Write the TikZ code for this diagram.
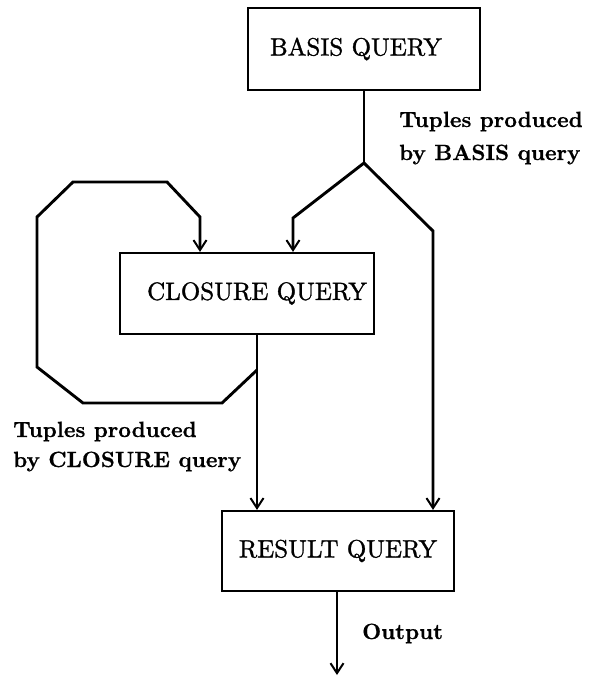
\documentclass[tikz,border=0pt]{standalone}
\usepackage{fontspec}
\usetikzlibrary{arrows.meta}
% slightly heavier faces for the box titles and the labels
\newfontface\heavyrm{lmroman10-regular.otf}[FakeBold=1.2]
\newfontface\heavybf{lmroman10-bold.otf}[FakeBold=0.6]
\begin{document}
\begin{tikzpicture}[x=1pt,y=-1pt,
  qbox/.style={draw, line width=2.2pt, rectangle, inner sep=0pt,
    font=\fontsize{25}{30}\heavyrm},
  wire/.style={line width=2.9pt},
  flow/.style={wire, -{Straight Barb[length=10pt,width=13pt,line width=2pt]}},
  lbl/.style={font=\fontsize{22}{26}\heavybf, anchor=base west, inner sep=0pt}]
\useasboundingbox (0,0) rectangle (592,678);

% query boxes
\node[qbox, minimum width=232pt, minimum height=82pt, text width=188pt,
      inner xsep=22pt, align=left] (basis) at (364,49) {BASIS QUERY};
\node[qbox, minimum height=81pt, text width=240pt, inner xsep=7pt,
      align=right] (closure) at (247,293.5) {CLOSURE QUERY};
\node[qbox, minimum width=232pt, minimum height=80pt, align=center]
      (result) at (338,551) {RESULT QUERY};

% bends of the connectors
\coordinate (split) at (364,163);
\coordinate (lb) at (293,218);
\coordinate (rb) at (433,231);
\coordinate (cx) at (257,370);
\coordinate (lt) at (200,217);
\coordinate (out) at (337,675);

% basis output splits to closure and result
\draw[wire] (basis.south) -- (split);
\draw[flow] (split) -- (lb) -- (lb |- closure.north);
\draw[flow] (split) -- (rb) -- (rb |- result.north);

% closure output to result, with the feedback loop
\draw[flow] (closure.south -| cx) -- (cx |- result.north);
\draw[flow] (cx) -- (222,403) -- (83,403) -- (37,367) -- (37,217)
  -- (73,182) -- (167,182) -- (lt) -- (lt |- closure.north);

% final output
\draw[flow] (result.south -| out) -- (out);

% labels
\node[lbl] (bl1) at (399,127) {Tuples produced};
\node[lbl] (bl2) at (399,160) {by BASIS query};
\node[lbl] (cl1) at (13,437) {Tuples produced};
\node[lbl] (cl2) at (13,467) {by CLOSURE query};
\node[lbl] (outl) at (362,639) {Output};
\end{tikzpicture}
\end{document}
